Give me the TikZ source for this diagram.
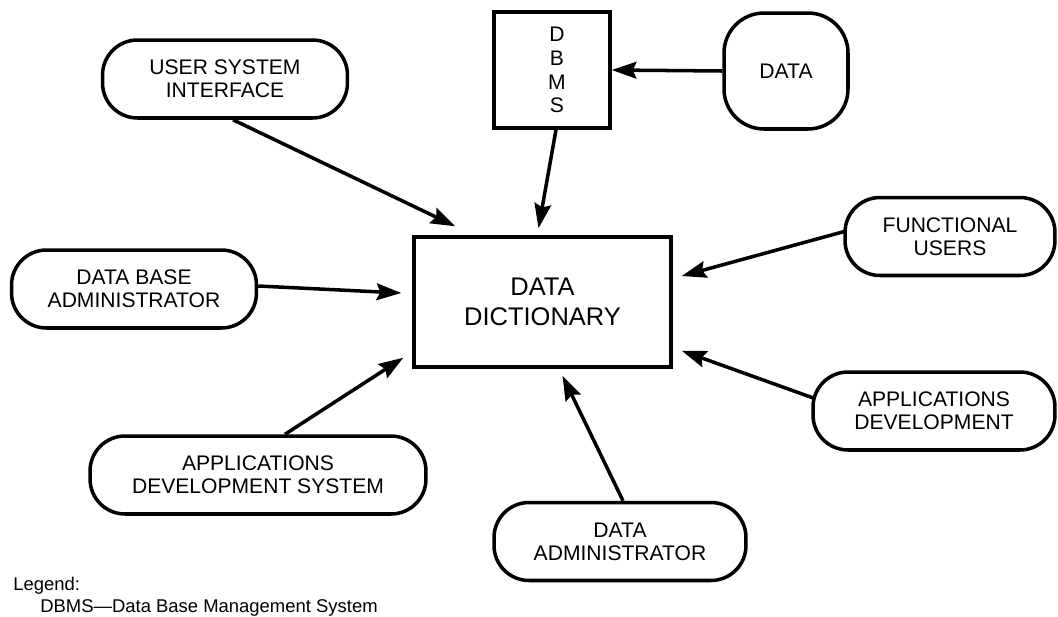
\documentclass[tikz,border=0pt]{standalone}
\usepackage{fontspec}
\setmainfont{Liberation Sans}
\usetikzlibrary{arrows.meta,calc}
\begin{document}
\begin{tikzpicture}[x=0.02cm,y=-0.02cm,
  every node/.style={font=\fontsize{12}{13}\selectfont, align=center, inner sep=0pt},
  pill/.style={draw, line width=2pt, rounded corners=0.7cm, minimum height=1.56cm},
  box/.style={draw, line width=2pt},
  conn/.style={line width=2pt, -{Stealth[length=14pt,width=9.5pt,inset=2pt]}},
  legendtext/.style={anchor=west, font=\fontsize{10.5}{12}\selectfont},
]
\useasboundingbox (0,0) rectangle (1058,616);

\node[pill, minimum width=4.9cm] (usi) at (225,79) {USER SYSTEM\\INTERFACE};
\node[box, minimum width=2.32cm, minimum height=2.32cm,
      label={[font=\fontsize{12}{13.6}\selectfont, align=center, xshift=0.1cm]center:D\\B\\M\\S}] (dbms) at (552,70) {};
\node[box, rounded corners=0.8cm, minimum width=2.48cm, minimum height=2.32cm] (data) at (786,71) {DATA};
\node[box, minimum width=5.14cm, minimum height=2.6cm, font=\fontsize{14.5}{17}\selectfont] (dd) at (542.5,302) {DATA\\DICTIONARY};
\node[pill, minimum width=4.9cm] (dba) at (134,289) {DATA BASE\\ADMINISTRATOR};
\node[pill, minimum width=4.2cm] (fu) at (950,236.5) {FUNCTIONAL\\USERS};
\node[pill, minimum width=4.84cm] (ad) at (934,411) {APPLICATIONS\\DEVELOPMENT};
\node[pill, minimum width=6.72cm] (ads) at (258,475) {APPLICATIONS\\DEVELOPMENT SYSTEM};
\node[pill, minimum width=5.04cm] (da) at (620,541.5) {DATA\\ADMINISTRATOR};

\node[legendtext] (leg) at (13,586) {Legend:};
\node[legendtext] (legdbms) at (40,608) {DBMS—Data Base Management System};

\draw[conn] (data.west) -- (dbms.east);
\draw[conn] ($(dbms.south)+(4,0)$) -- ($(dd.north)+(-4,-7)$);
\draw[conn] ($(usi.south)+(8,0)$) -- ($(dd.north west)+(43,-9)$);
\draw[conn] ($(dba.east)+(0,-3)$) -- ($(dd.west)+(-11,-9)$);
\draw[conn] ($(ads.north)+(27,0)$) -- ($(dd.south west)+(-9,-11)$);
\draw[conn] ($(da.north)+(3,0)$) -- ($(dd.south)+(20,7)$);
\draw[conn] ($(ad.west)+(2,-13)$) -- ($(dd.south east)+(9,-18)$);
\draw[conn] ($(fu.west)+(1,-5)$) -- ($(dd.east)+(9,-26)$);
\end{tikzpicture}
\end{document}
